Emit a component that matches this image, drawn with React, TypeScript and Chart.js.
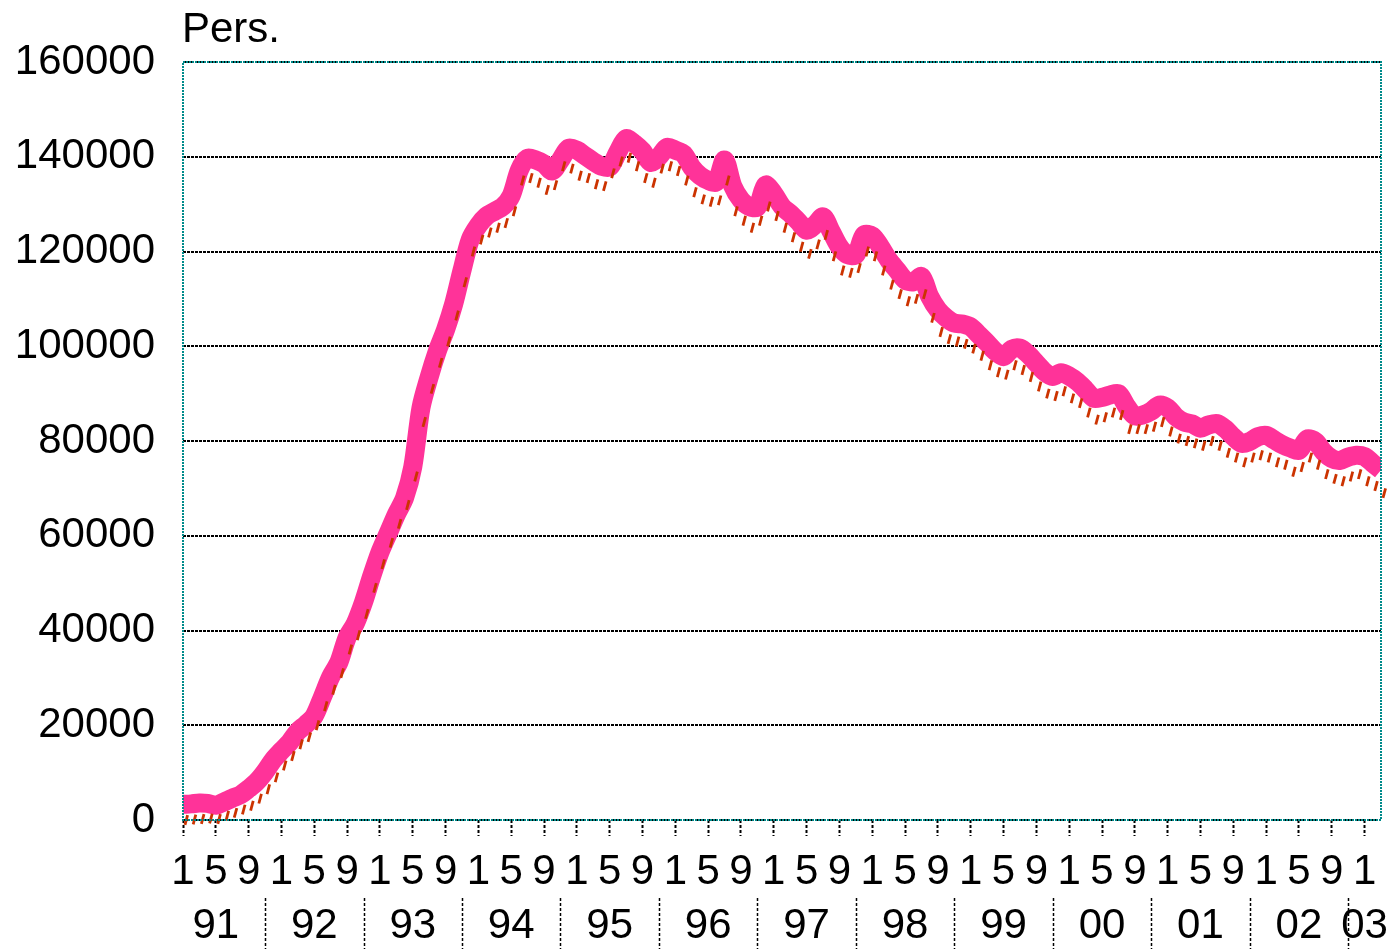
import React, { useEffect, useRef } from 'react';
import { Chart, registerables } from 'chart.js';

Chart.register(...registerables);

// Month index 0 = Jan 1991 ... 146 = Mar 2003
const monthTickLabels = ['1', '5', '9'];
const yearLabels = ['91', '92', '93', '94', '95', '96', '97', '98', '99', '00', '01', '02', '03'];
const yearLabelIndex = [4, 16, 28, 40, 52, 64, 76, 88, 100, 112, 124, 136, 144];
const yearSeparatorIndex = [10, 22, 34, 46, 58, 70, 82, 94, 106, 118, 130, 142];
const yTicks = [0, 20000, 40000, 60000, 80000, 100000, 120000, 140000, 160000];

const pinkValues = [
  3300, 3400, 3600, 3500, 3100, 3800, 4600, 5300, 6600, 8100, 10200, 12700,
  14600, 16400, 18700, 20200, 22000, 26000, 30200, 33300, 38500, 41500, 46000, 51500,
  56500, 60500, 64500, 68000, 74500, 87000, 93500, 99000, 103500, 109000, 116000, 122500,
  125500, 127500, 128500, 129500, 131800, 137200, 139700, 139300, 138500, 137000, 139300, 141800,
  141400, 140200, 139000, 138000, 137800, 141000, 143800, 142800, 141200, 138800, 140000, 142000,
  141400, 140600, 137800, 136000, 135000, 134700, 139300, 133800, 130900, 129500, 129400, 134000,
  132200, 129500, 128000, 126300, 124500, 125600, 127300, 124200, 121000, 119300, 119300, 123500,
  123300, 121000, 118200, 116100, 114000, 113600, 114700, 110500, 107700, 106000, 104900, 104700,
  104100, 102400, 100700, 98900, 97800, 99400, 99600, 98300, 96400, 94600, 93600, 94400,
  93700, 92500, 90800, 89000, 89200, 89700, 90000, 87300, 85300, 85500, 86300, 87600,
  87000, 85100, 84000, 83600, 82700, 83400, 83700, 82600, 80900, 79500, 79900, 80900,
  81200, 80200, 79200, 78500, 78000, 80400, 79900, 77700, 76300, 75900, 76600, 77000,
  76700, 75300, 73900,
];

const dashValues = [
  0, 100, 200, 300, 200, 900, 1500, 2200, 3000, 4500, 6500, 9000,
  11500, 13500, 16000, 17500, 20000, 24000, 27500, 31000, 36000, 39000, 43500, 49000,
  54000, 58500, 62500, 66500, 72500, 84000, 91000, 96500, 101000, 106500, 113500, 120000,
  122500, 124000, 125000, 126000, 128500, 135000, 135500, 134500, 133000, 134000, 138000, 137500,
  136000, 135500, 134200, 133800, 136500, 139000, 139800, 138000, 135500, 134500, 137500, 138000,
  137000, 135000, 132500, 131000, 130500, 130800, 135000, 128500, 126500, 125000, 126500, 129500,
  127500, 125000, 123000, 121000, 119500, 121500, 123500, 119000, 116000, 115500, 116500, 120000,
  119000, 116000, 113000, 111000, 109500, 110000, 111000, 106000, 103000, 101500, 101000, 100500,
  99500, 98000, 96000, 94500, 94000, 96000, 95000, 93500, 91500, 90000, 89500, 90500,
  89000, 88000, 86000, 84500, 85000, 86000, 85500, 82500, 82500, 82500, 83000, 84000,
  82000, 80500, 80000, 79500, 79000, 80000, 79000, 77500, 76500, 75500, 76500, 77000,
  76500, 75500, 75000, 73500, 74500, 76500, 75000, 73000, 72000, 71500, 72500, 73000,
  71500, 70500, 69000,
];

const FONT_FAMILY = '"Liberation Sans", Arial, sans-serif';
const FONT_SIZE = 42;

const decorPlugin = {
  id: 'decor',
  afterDatasetsDraw(chart: any) {
    const { ctx, chartArea: a } = chart;
    ctx.save();
    ctx.strokeStyle = '#008b8b';
    ctx.lineWidth = 2;
    ctx.setLineDash([2, 1]);
    ctx.strokeRect(a.left, a.top, a.right - a.left, a.bottom - a.top);
    ctx.restore();
  },
  afterDraw(chart: any) {
    const { ctx, chartArea: a } = chart;
    const x = chart.scales.x;
    ctx.save();
    ctx.fillStyle = '#000';
    ctx.font = `${FONT_SIZE}px ${FONT_FAMILY}`;
    ctx.textAlign = 'left';
    ctx.textBaseline = 'alphabetic';
    ctx.fillText('Pers.', a.left - 1, 42);

    ctx.textAlign = 'center';
    yearLabels.forEach((lab, k) => {
      ctx.fillText(lab, x.getPixelForValue(yearLabelIndex[k]), 938);
    });

    ctx.strokeStyle = '#000';
    ctx.lineWidth = 1.5;
    ctx.setLineDash([3, 2]);
    yearSeparatorIndex.forEach((idx) => {
      const px = Math.round(x.getPixelForValue(idx)) + 0.5;
      ctx.beginPath();
      ctx.moveTo(px, 898);
      ctx.lineTo(px, 949);
      ctx.stroke();
    });
    ctx.restore();
  },
};

export default function App() {
  const ref = useRef<HTMLCanvasElement | null>(null);

  useEffect(() => {
    if (!ref.current) return;
    const lastIndex = pinkValues.length - 1;
    const chart = new Chart(ref.current, {
      type: 'line',
      data: {
        datasets: [
          {
            label: 'dash',
            data: dashValues.map((v, i) => ({ x: i + 0.4, y: v })),
            showLine: false,
            pointStyle: 'line',
            pointRadius: 5,
            pointRotation: -75,
            pointBorderWidth: 2.8,
            pointBorderColor: '#cc3300',
            borderColor: '#cc3300',
            backgroundColor: '#cc3300',
            clip: false as any,
          },
          {
            label: 'pers',
            data: pinkValues.map((v, i) => ({ x: i, y: v })),
            borderColor: '#ff3399',
            backgroundColor: '#ff3399',
            borderWidth: 19,
            pointRadius: 0,
            tension: 0.3,
            borderJoinStyle: 'round',
            borderCapStyle: 'butt',
            fill: false,
            clip: 0 as any,
          },
        ],
      },
      options: {
        animation: false,
        responsive: false,
        devicePixelRatio: 1,
        events: [],
        layout: { padding: { left: 0, top: 62, right: 14, bottom: 0 } },
        plugins: {
          legend: { display: false },
          tooltip: { enabled: false },
          title: { display: false },
        },
        scales: {
          x: {
            type: 'linear',
            min: 0,
            max: lastIndex,
            afterFit: (s: any) => {
              s.height = 129;
            },
            border: { display: false },
            grid: {
              drawOnChartArea: false,
              drawTicks: true,
              tickLength: 16,
              tickWidth: 2,
              tickBorderDash: [3, 2],
              tickColor: (c: any) =>
                c.tick && c.tick.value % 4 === 0 && c.tick.value <= 144 ? '#000' : 'rgba(0,0,0,0)',
              color: 'rgba(0,0,0,0)',
            },
            ticks: {
              stepSize: 4,
              includeBounds: false,
              autoSkip: false,
              maxRotation: 0,
              minRotation: 0,
              maxTicksLimit: 200,
              padding: 11,
              color: '#000',
              font: { size: FONT_SIZE, family: FONT_FAMILY },
              callback: (v: any) =>
                v % 4 === 0 && v <= 144 ? monthTickLabels[(v / 4) % 3] : '',
            },
          },
          y: {
            type: 'linear',
            min: yTicks[0],
            max: yTicks[yTicks.length - 1],
            afterFit: (s: any) => {
              s.width = 183;
            },
            border: { display: false, dash: [3, 1] },
            grid: {
              color: '#000',
              lineWidth: 2,
              drawTicks: false,
            },
            ticks: {
              stepSize: 20000,
              padding: 28,
              color: '#000',
              font: { size: FONT_SIZE, family: FONT_FAMILY },
              callback: (v: any) => String(v),
            },
          },
        },
      },
      plugins: [decorPlugin],
    });
    return () => chart.destroy();
  }, []);

  return (
    <div style={{ position: 'fixed', left: 0, top: 0, width: 1395, height: 949, background: '#fff' }}>
      <canvas ref={ref} width={1395} height={949} style={{ width: 1395, height: 949, display: 'block' }} />
    </div>
  );
}
